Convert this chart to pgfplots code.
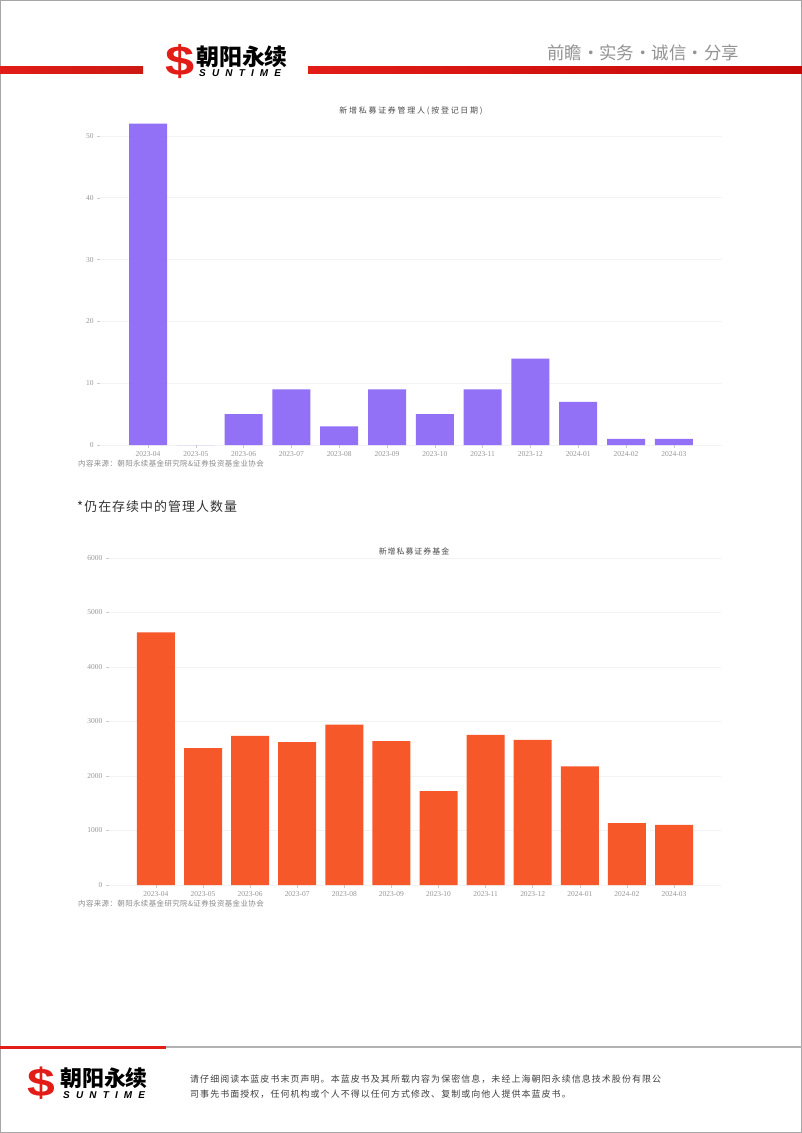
\documentclass[border=0pt]{standalone}
\usepackage{fontspec}
\setmainfont{Liberation Serif}
\newfontfamily\cjk{Noto Sans CJK SC}
\newfontfamily\sans{Liberation Sans}
\usepackage{pgfplots}
\pgfplotsset{compat=1.18}

\definecolor{barpurple}{RGB}{146,113,247}
\definecolor{barorange}{RGB}{247,88,42}
\definecolor{logored}{RGB}{226,28,22}
\definecolor{darkred}{RGB}{196,8,8}
\definecolor{gridgray}{RGB}{243,243,243}
\definecolor{ticktext}{RGB}{150,150,150}
\definecolor{notetext}{RGB}{140,140,140}

\pgfplotsset{
  pagebar/.style={
    ybar, scale only axis, anchor=south west,
    axis line style={draw=none},
    ymajorgrids, grid style={gridgray, line width=0.7bp},
    tick style={draw=gray!40, line width=0.5bp},
    major tick length=3bp, tick align=outside,
    xtick pos=bottom, ytick pos=left,
    xmin=-1, xmax=12, ymin=0,
    xtick={0,...,11},
    xticklabels={2023-04,2023-05,2023-06,2023-07,2023-08,2023-09,2023-10,2023-11,2023-12,2024-01,2024-02,2024-03},
    tick label style={font=\fontsize{7.5}{8}\selectfont, text=ticktext},
    /pgf/number format/assume math mode=true,
    /pgf/number format/1000 sep={},
    bar width=38bp,
    clip=false,
  }
}

\begin{document}
\begin{tikzpicture}[x=1bp,y=1bp]
\useasboundingbox (0,0) rectangle (802,-1133);
\fill[white] (0,0) rectangle (802,-1133);
\draw[gray!70, line width=1bp] (0.5,-0.5) rectangle (801.5,-1132.5);

% header
\shade[left color=logored, right color=logored!90!black] (0,-66) rectangle (143,-73);
\shade[left color=logored, right color=darkred] (308,-66) rectangle (802,-73);
\node[text=logored, font=\sans\bfseries\fontsize{42}{42}\selectfont, xscale=1.25] at (180,-62) {\$};
\node[anchor=west, inner sep=0, font=\cjk\bfseries\fontsize{23}{23}\selectfont] at (196,-57) {朝阳永续};
\node[anchor=west, inner sep=0, font=\sans\bfseries\itshape\fontsize{10}{10}\selectfont\addfontfeature{LetterSpace=62}] at (199,-73) {SUNTIME};
\node[anchor=west, inner sep=0, text=gray!85, font=\cjk\fontsize{17.5}{17.5}\selectfont] at (547,-53) {前瞻・实务・诚信・分享};

% chart 1
\node[text=black!70, font=\cjk\fontsize{8}{8}\selectfont\addfontfeature{LetterSpace=22}] at (411,-111) {新增私募证券管理人(按登记日期)};
\begin{axis}[pagebar, at={(100.2bp,-445bp)}, width=621.4bp, height=327.5bp,
  ymax=53, ytick={0,10,...,50}]
\addplot[fill=barpurple, draw=none] coordinates {
  (0,52)(1,0)(2,5)(3,9)(4,3)(5,9)(6,5)(7,9)(8,14)(9,7)(10,1)(11,1)
};
\end{axis}
\node[anchor=west, inner sep=0, text=notetext, font=\cjk\fontsize{7.5}{7.5}\selectfont\addfontfeature{LetterSpace=5}] at (78,-464) {内容来源：朝阳永续基金研究院\&证券投资基金业协会};

\node[anchor=west, inner sep=0, text=black!80, font=\cjk\fontsize{13}{13}\selectfont\addfontfeature{LetterSpace=8}] at (77,-507) {*仍在存续中的管理人数量};

% chart 2
\node[text=black!70, font=\cjk\fontsize{8}{8}\selectfont\addfontfeature{LetterSpace=12}] at (414,-551) {新增私募证券基金};
\begin{axis}[pagebar, at={(108.8bp,-885bp)}, width=612.3bp, height=327bp,
  ymax=6000, ytick={0,1000,...,6000}]
\addplot[fill=barorange, draw=none] coordinates {
  (0,4635)(1,2512)(2,2736)(3,2622)(4,2945)(5,2640)(6,1722)(7,2755)(8,2665)(9,2176)(10,1135)(11,1102)
};
\end{axis}
\node[anchor=west, inner sep=0, text=notetext, font=\cjk\fontsize{7.5}{7.5}\selectfont\addfontfeature{LetterSpace=5}] at (78,-904) {内容来源：朝阳永续基金研究院\&证券投资基金业协会};

% footer
\fill[logored] (0,-1045.8) rectangle (166,-1048.6);
\fill[gray!60] (166,-1046.3) rectangle (802,-1048);
\node[text=logored, font=\sans\bfseries\fontsize{40}{40}\selectfont, xscale=1.25] at (41,-1083) {\$};
\node[anchor=west, inner sep=0, font=\cjk\bfseries\fontsize{22}{22}\selectfont] at (60,-1078) {朝阳永续};
\node[anchor=west, inner sep=0, font=\sans\bfseries\itshape\fontsize{10}{10}\selectfont\addfontfeature{LetterSpace=62}] at (63,-1095) {SUNTIME};
\node[anchor=west, inner sep=0, text=black!75, font=\cjk\fontsize{9}{9}\selectfont\addfontfeature{LetterSpace=12}] at (190,-1079) {请仔细阅读本蓝皮书末页声明。本蓝皮书及其所载内容为保密信息，未经上海朝阳永续信息技术股份有限公};
\node[anchor=west, inner sep=0, text=black!75, font=\cjk\fontsize{9}{9}\selectfont\addfontfeature{LetterSpace=12}] at (190,-1094) {司事先书面授权，任何机构或个人不得以任何方式修改、复制或向他人提供本蓝皮书。};
\end{tikzpicture}
\end{document}
